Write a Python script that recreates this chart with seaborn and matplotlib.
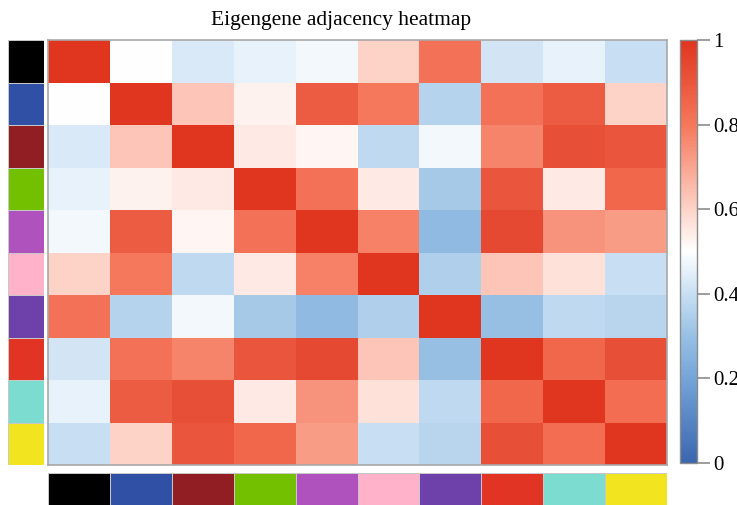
import numpy as np
import pandas as pd
import matplotlib
matplotlib.use("Agg")
import matplotlib.pyplot as plt
from matplotlib.colors import LinearSegmentedColormap, ListedColormap
import seaborn as sns

# Module eigengenes (named by module colour)
modules = ["black", "blue", "darkred", "green", "magenta",
           "pink", "purple", "red", "turquoise", "yellow"]
module_hex = ["#000000", "#2F50A5", "#911E23", "#73C000", "#B052BE",
              "#FFB2CA", "#6E41AA", "#E23425", "#7DDCD0", "#F2E41E"]

# Adjacency between module eigengenes
row_black     = [1.00, 0.50, 0.43, 0.46, 0.48, 0.60, 0.82, 0.42, 0.46, 0.40]
row_blue      = [0.50, 1.00, 0.63, 0.53, 0.88, 0.80, 0.36, 0.82, 0.88, 0.60]
row_darkred   = [0.43, 0.63, 1.00, 0.55, 0.52, 0.38, 0.48, 0.77, 0.92, 0.90]
row_green     = [0.46, 0.53, 0.55, 1.00, 0.82, 0.55, 0.33, 0.90, 0.55, 0.85]
row_magenta   = [0.48, 0.88, 0.52, 0.82, 1.00, 0.78, 0.28, 0.94, 0.74, 0.72]
row_pink      = [0.60, 0.80, 0.38, 0.55, 0.78, 1.00, 0.35, 0.63, 0.57, 0.40]
row_purple    = [0.82, 0.36, 0.48, 0.33, 0.28, 0.35, 1.00, 0.30, 0.38, 0.37]
row_red       = [0.42, 0.82, 0.77, 0.90, 0.94, 0.63, 0.30, 1.00, 0.85, 0.92]
row_turquoise = [0.46, 0.88, 0.92, 0.55, 0.74, 0.57, 0.38, 0.85, 1.00, 0.83]
row_yellow    = [0.40, 0.60, 0.90, 0.85, 0.72, 0.40, 0.37, 0.92, 0.83, 1.00]

cbar_ticks = [0, 0.2, 0.4, 0.6, 0.8, 1]
cbar_ticklabels = ["0", "0.2", "0.4", "0.6", "0.8", "1"]

adj = pd.DataFrame(
    [row_black, row_blue, row_darkred, row_green, row_magenta,
     row_pink, row_purple, row_red, row_turquoise, row_yellow],
    index=modules, columns=modules)

# blue - white - red gradient
bwr = LinearSegmentedColormap.from_list(
    "bwr_adj",
    [(0.0, "#3B66B0"), (0.2, "#75A5D8"), (0.3, "#98C0E4"),
     (0.4, "#C8DFF3"), (0.5, "#FFFFFF"), (0.6, "#FDD3C8"),
     (0.8, "#F5785C"), (1.0, "#E0351F")])
module_cmap = ListedColormap(module_hex)

W, H = 737, 505
fig = plt.figure(figsize=(W / 100, H / 100), dpi=100)
serif = "Liberation Serif"

def box(x0, y0, x1, y1):
    return [x0 / W, 1 - y1 / H, (x1 - x0) / W, (y1 - y0) / H]

ax = fig.add_axes(box(48, 40, 667, 465))
ax_left = fig.add_axes(box(8, 40, 44, 465))
ax_bottom = fig.add_axes(box(48, 473, 667, 505))
cax = fig.add_axes(box(680, 40, 697, 463))

sns.heatmap(adj, ax=ax, cmap=bwr, vmin=0, vmax=1, cbar=True, cbar_ax=cax,
            xticklabels=False, yticklabels=False, linewidths=0)
for s in ax.spines.values():
    s.set_visible(True)
    s.set_edgecolor("#A8A8A8")
    s.set_linewidth(1.2)

codes = np.arange(len(modules))
sns.heatmap(codes.reshape(-1, 1), ax=ax_left, cmap=module_cmap, cbar=False,
            vmin=-0.5, vmax=len(modules) - 0.5,
            xticklabels=False, yticklabels=False,
            linewidths=0.6, linecolor="#C8C8C8")
sns.heatmap(codes.reshape(1, -1), ax=ax_bottom, cmap=module_cmap, cbar=False,
            vmin=-0.5, vmax=len(modules) - 0.5,
            xticklabels=False, yticklabels=False,
            linewidths=0.6, linecolor="#C8C8C8")

cax.set_yticks(cbar_ticks)
cax.set_yticklabels(cbar_ticklabels, fontfamily=serif, fontsize=15)
cax.tick_params(axis="y", length=9, width=1.2, color="#8C8C8C", pad=3)
cbar = ax.collections[0].colorbar
cbar.outline.set_edgecolor("#8C8C8C")
cbar.outline.set_linewidth(1.0)

fig.text(341 / W, 1 - 20 / H, "Eigengene adjacency heatmap",
         ha="center", va="center", fontfamily=serif, fontsize=15.5)

fig.savefig("out.png", dpi=100)
